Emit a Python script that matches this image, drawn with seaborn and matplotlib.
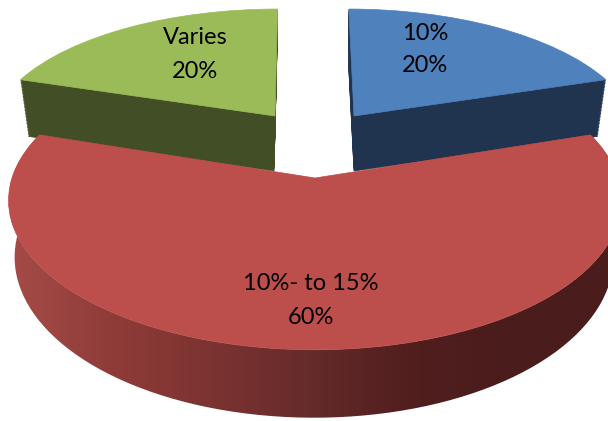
import numpy as np
import matplotlib
matplotlib.use('Agg')
import matplotlib.pyplot as plt
from matplotlib.colors import LinearSegmentedColormap
from matplotlib.patches import PathPatch
from matplotlib.path import Path
from matplotlib.transforms import Transform
import seaborn as sns

sns.set_theme(style='white')
plt.rcParams['font.family'] = ['Lato', 'DejaVu Sans']

#data
categories = ['10%', '10%- to 15%', 'Varies']
values = [20, 60, 20]
pct_labels = ['20%', '60%', '20%']

#colours
top_cols = ['#4F81BD', '#BC4F4C', '#9BBB59']
wall_cols = ['#20334F', None, '#424E26']
red_wall = ['#A54B47', '#8F3C39', '#7C3331', '#662B2B', '#521E1E', '#4A1C1C', '#4A1C1C']

#tilt of the disc, same for all slices
TILT = 0.15


class Tilt(Transform):
    #unit circle -> pixel position, back of the disc is shrunk
    input_dims = 2
    output_dims = 2

    def __init__(self, cx, cy, a, b, shear=0.0):
        super().__init__()
        self.p = (cx, cy, a, b, shear)

    def transform_non_affine(self, values):
        cx, cy, a, b, shear = self.p
        xy = np.asarray(values, dtype=float)
        w = 1 + TILT * xy[:, 1]
        return np.column_stack([cx + (a * xy[:, 0] + shear * xy[:, 1]) / w,
                                cy - b * xy[:, 1] / w])


#layout of each slice: upper face, lower face
layout = [((354, 116, 279, 123, -6), (354, 171, 270, 117, -6)),
          ((315, 178, 303, 146, 0), (314, 233, 296, 157, 0)),
          ((275, 116, 281, 123, 3), (274, 171, 271, 117, 3))]

fig = plt.figure(figsize=(6.08, 4.21), dpi=100)
ax = fig.add_axes([0, 0, 1, 1])


def draw_slice(idx, params, color, zorder):
    wedges, _ = ax.pie(values, startangle=90, counterclock=False,
                       colors=top_cols, radius=1)
    for i, w in enumerate(wedges):
        if i == idx:
            w.set_transform(Tilt(*params) + ax.transData)
            w.set_facecolor(color)
            w.set_edgecolor(color)
            w.set_linewidth(0.5)
            w.set_zorder(zorder)
        else:
            w.remove()
    return wedges[idx]


#green and blue: stack the slice downwards for the wall, then the top
for idx in [0, 2]:
    upper, lower = layout[idx]
    for t in np.linspace(1, 0.02, 40):
        params = [u + (l - u) * t for u, l in zip(upper, lower)]
        draw_slice(idx, params, wall_cols[idx], 1)
    draw_slice(idx, upper, top_cols[idx], 2)

#red: outer wall with a left to right shading
red_top = draw_slice(1, layout[1][0], top_cols[1], 4)
ang = np.radians(np.linspace(red_top.theta1, red_top.theta2, 200))
rim = np.column_stack([np.cos(ang), np.sin(ang)])
rim_up = Tilt(*layout[1][0]).transform(rim)
rim_low = Tilt(*layout[1][1]).transform(rim)
wall_path = Path(np.vstack([rim_up, rim_low[::-1], rim_up[:1]]))
shade = LinearSegmentedColormap.from_list('red_wall', red_wall)
img = ax.imshow(np.linspace(0, 1, 300)[None, :], cmap=shade, aspect='auto',
                extent=[10, 608, 421, 0], zorder=3)
clip = PathPatch(wall_path, transform=ax.transData, fc='none', ec='none')
ax.add_patch(clip)
img.set_clip_path(clip)

#labels
txt = dict(ha='center', va='center', fontsize=17, color='black', zorder=5)
ax.text(425, 33, categories[0], **txt)
ax.text(425, 66, pct_labels[0], **txt)
ax.text(311, 284, categories[1], **txt)
ax.text(311, 317, pct_labels[1], **txt)
ax.text(195, 37, categories[2], **txt)
ax.text(195, 71, pct_labels[2], **txt)

ax.set_aspect('auto')
ax.set_xlim(0, 608)
ax.set_ylim(421, 0)
ax.axis('off')

fig.savefig('out.png', dpi=100, facecolor='white')
